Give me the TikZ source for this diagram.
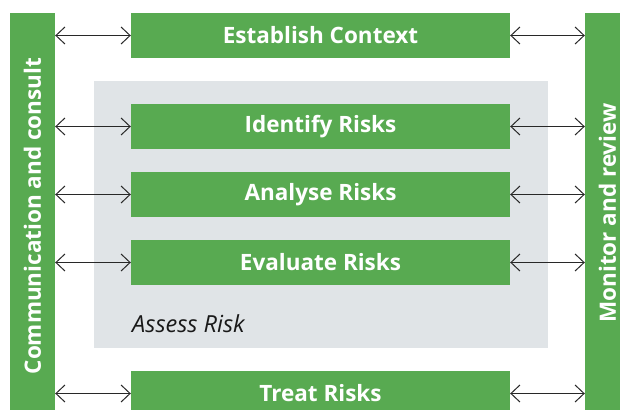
\documentclass[tikz,border=0pt]{standalone}
\usepackage{fontspec}
\setmainfont{Open Sans}
\usetikzlibrary{arrows.meta}
\definecolor{boxgreen}{RGB}{88,170,81}
\definecolor{panelgray}{RGB}{224,228,231}
\definecolor{linkgray}{RGB}{40,40,40}
\tikzset{
  labelfont/.style={font=\fontsize{22.5}{27}\selectfont\bfseries},
  stepbox/.style={fill=boxgreen, draw=none, minimum width=379pt, minimum height=45pt,
    inner sep=0pt, text=white, labelfont},
  sidebar/.style={fill=boxgreen, draw=none, minimum height=45pt, inner sep=0pt,
    rotate=90, text=white, labelfont},
  link/.style={draw=linkgray, line width=1pt,
    {Straight Barb[length=9pt,width=17pt,line width=1pt]}-{Straight Barb[length=9pt,width=17pt,line width=1pt]}}
}
\begin{document}
\begin{tikzpicture}[x=1pt,y=-1pt]
  \useasboundingbox (0,0) rectangle (620,409);
  \clip (0,0) rectangle (620,409);
  % assessment panel
  \fill[panelgray] (94,81) rectangle (548,348);
  \node[anchor=base west, inner sep=0pt, text=black!90,
        font=\fontsize{23.5}{28}\selectfont\itshape] (assess) at (132,332) {Assess Risk};
  % process steps
  \node[stepbox] (ctx) at (320.5,35.5) {Establish Context};
  \node[stepbox] (idr) at (320.5,126.5) {Identify Risks};
  \node[stepbox] (anr) at (320.5,194.5) {Analyse Risks};
  \node[stepbox] (evr) at (320.5,262.5) {Evaluate Risks};
  \node[stepbox] (trr) at (320.5,393.5) {Treat Risks};
  % side bars
  \node[sidebar, minimum width=406pt] (cc) at (32.5,216) {Communication and consult};
  \node[sidebar, minimum width=400pt] (mr) at (607.5,213) {Monitor and review};
  % links
  \foreach \s in {ctx,idr,anr,evr,trr}{
    \draw[link] (cc.south |- \s.west) -- (\s.west);
    \draw[link] (\s.east) -- (mr.north |- \s.east);
  }
\end{tikzpicture}
\end{document}
